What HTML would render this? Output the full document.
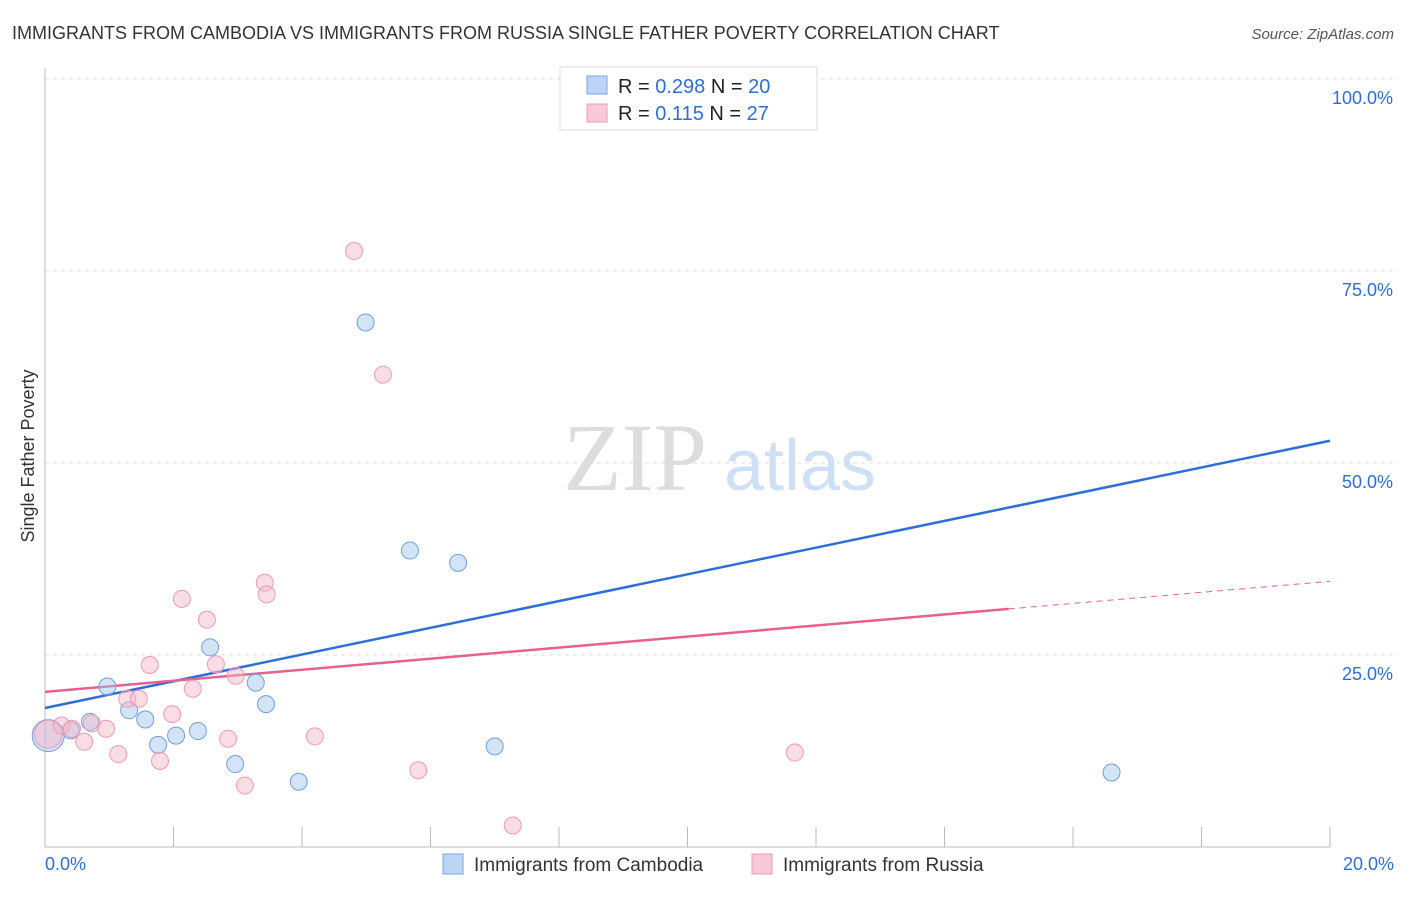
<!DOCTYPE html>
<html><head><meta charset="utf-8"><style>
body{margin:0;background:#fff;font-family:"Liberation Sans",sans-serif}
</style></head><body>
<svg id="chart" width="1406" height="892" xmlns="http://www.w3.org/2000/svg" font-family="Liberation Sans, sans-serif">
<text x="12" y="39" font-size="18" fill="#333">IMMIGRANTS FROM CAMBODIA VS IMMIGRANTS FROM RUSSIA SINGLE FATHER POVERTY CORRELATION CHART</text>
<text x="1394" y="39" font-size="15" fill="#555" font-style="italic" text-anchor="end">Source: ZipAtlas.com</text>
<text x="34" y="456" font-size="18" fill="#333" transform="rotate(-90 34 456)" text-anchor="middle">Single Father Poverty</text>
<g><text x="635" y="490" font-size="96" font-family="Liberation Serif, serif" fill="#ddd" text-anchor="middle">ZIP</text><text x="800" y="490" font-size="72" fill="#cfe0f5" text-anchor="middle">atlas</text></g>
<g id="grid"></g><g id="axes"></g><g id="lines"></g><g id="pts"></g>
<g>
<rect x="560" y="67" width="257" height="63" fill="#fff" stroke="#ddd"/>
<rect x="587" y="76" width="20" height="18" fill="#bcd4f5" stroke="#7aa6e6"/>
<rect x="587" y="104" width="20" height="18" fill="#f9c9d7" stroke="#ee9ab4"/>
<text x="618" y="93" font-size="20" fill="#222">R = <tspan fill="#2d6fd6">0.298</tspan>   N = <tspan fill="#2d6fd6">20</tspan></text>
<text x="618" y="120" font-size="20" fill="#222">R =  <tspan fill="#2d6fd6">0.115</tspan>   N =  <tspan fill="#2d6fd6">27</tspan></text>
</g>
<g>
<rect x="443" y="854" width="20" height="20" fill="#bcd4f5" stroke="#7aa6e6"/>
<text x="474" y="871" font-size="19" fill="#333">Immigrants from Cambodia</text>
<rect x="752" y="854" width="20" height="20" fill="#f9c9d7" stroke="#ee9ab4"/>
<text x="783" y="871" font-size="19" fill="#333">Immigrants from Russia</text>
</g>
</svg>
<script>
const yTicks=[25,50,75,100];
const yTickLabels=["25.0%","50.0%","75.0%","100.0%"];
const xEndLabels=["0.0%","20.0%"];
const cambX=[0.05,0.4,0.7,0.97,1.31,1.56,1.76,2.04,2.38,2.57,2.96,3.28,3.44,3.95,4.99,5.68,6.43,7.0,16.6,9.03];
const cambY=[14.5,15.2,16.3,20.9,17.8,16.6,13.3,14.5,15.1,26.0,10.8,21.4,18.6,8.5,68.3,38.6,37.0,13.1,9.7,100];
const rusX=[0.05,0.26,0.42,0.61,0.73,0.95,1.14,1.28,1.46,1.63,1.79,1.98,2.13,2.3,2.52,2.66,2.85,2.97,3.11,3.42,3.45,4.2,4.81,5.26,5.81,7.28,11.67];
const rusY=[14.7,15.8,15.4,13.7,16.1,15.4,12.1,19.3,19.3,23.7,11.2,17.3,32.3,20.6,29.6,23.8,14.1,22.3,8.0,34.4,32.9,14.4,77.6,61.5,10.0,2.8,12.3];
const cambTrend=[18.1,52.9];
const rusTrend=[20.2,34.6];
const rusSolidEnd=15.0;
const X=v=>45+v/20*1285, Y=v=>847-v/100*768;
const NS="http://www.w3.org/2000/svg";
function mk(tag,attrs,parent){const e=document.createElementNS(NS,tag);for(const k in attrs)e.setAttribute(k,attrs[k]);document.getElementById(parent).appendChild(e);return e;}
yTicks.forEach((t,i)=>{
 const g=mk('line',{x1:45,x2:1394,y1:Y(t),y2:Y(t),stroke:'#ddd','stroke-dasharray':'4,4'},'grid');
 
 
 const l=mk('text',{x:1393,y:Y(t)+25,'font-size':18,fill:'#2d6fd6','text-anchor':'end'},'grid');
 l.textContent=yTickLabels[i];
 
 
});
const ax=mk('line',{x1:45,x2:45,y1:68,y2:847,stroke:'#bbb'},'axes');


const bx=mk('line',{x1:45,x2:1330,y1:847,y2:847,stroke:'#bbb'},'axes');


for(let i=1;i<=10;i++){
 const t=mk('line',{x1:X(i*2),x2:X(i*2),y1:827,y2:847,stroke:'#bbb'},'axes');
 
 
}
[[0,'start',45],[20,'end',1394]].forEach((d,i)=>{
 const t=mk('text',{x:d[2],y:870,'font-size':18,fill:'#2d6fd6','text-anchor':d[1]},'axes');
 t.textContent=xEndLabels[i];
 
 
});
const bl=mk('line',{x1:X(0),y1:Y(cambTrend[0]),x2:X(20),y2:Y(cambTrend[1]),stroke:'#2d6fd6','stroke-width':2.5},'lines');


const ry=v=>rusTrend[0]+(rusTrend[1]-rusTrend[0])*v/20;
const pl=mk('line',{x1:X(0),y1:Y(ry(0)),x2:X(rusSolidEnd),y2:Y(ry(rusSolidEnd)),stroke:'#e8608e','stroke-width':2.5},'lines');


const pd=mk('line',{x1:X(rusSolidEnd),y1:Y(ry(rusSolidEnd)),x2:X(20),y2:Y(ry(20)),stroke:'#e8608e','stroke-width':1,'stroke-dasharray':'6,5'},'lines');


cambX.forEach((x,i)=>{
 const c=mk('circle',{cx:X(x),cy:Y(cambY[i]),r:i==0?16:8.5,fill:'rgba(160,196,240,0.45)',stroke:'#6f9ee6','stroke-width':1},'pts');
 
 
});
rusX.forEach((x,i)=>{
 const c=mk('circle',{cx:X(x),cy:Y(rusY[i]),r:i==0?14:8.5,fill:'rgba(246,180,200,0.45)',stroke:'#ee9ab4','stroke-width':1},'pts');
 
 
});
</script>
</body></html>
